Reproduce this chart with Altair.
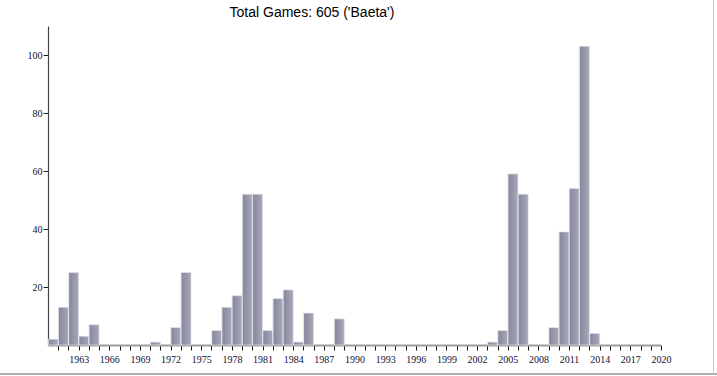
import altair as alt
import pandas as pd

years = list(range(1960, 2020))
games = [
    2, 13, 25, 3, 7, 0, 0, 0, 0, 0,          # 1960-1969
    1, 0, 6, 25, 0, 0, 5, 13, 17, 52,        # 1970-1979
    52, 5, 16, 19, 1, 11, 0, 0, 9, 0,        # 1980-1989
    0, 0, 0, 0, 0, 0, 0, 0, 0, 0,            # 1990-1999
    0, 0, 0, 1, 5, 59, 52, 0, 0, 6,          # 2000-2009
    39, 54, 103, 4, 0, 0, 0, 0, 0, 0,        # 2010-2019
]
x_label_years = list(range(1963, 2021, 3))
y_ticks = [20, 40, 60, 80, 100]
title_text = "Total Games: 605 ('Baeta')"

df = pd.DataFrame({"year": years, "games": games})
df["year_end"] = df["year"] + 1
df = df[df["games"] > 0]

grad = alt.LinearGradient(
    gradient="linear",
    stops=[
        alt.GradientStop(color="#dcdce6", offset=0),
        alt.GradientStop(color="#8a8a9e", offset=0.12),
        alt.GradientStop(color="#9898ac", offset=0.55),
        alt.GradientStop(color="#a9a9bc", offset=1),
    ],
    x1=0, x2=1, y1=0, y2=0,
)

label_expr = "((datum.value - 1963) % 3 == 0 && datum.value >= 1963) ? format(datum.value, 'd') : ''"

bars = alt.Chart(df).mark_bar(color=grad, stroke="#e4e4ec", strokeWidth=0.6).encode(
    x=alt.X("year:Q", scale=alt.Scale(domain=[1960, 2020], nice=False, zero=False),
            axis=alt.Axis(values=list(range(1961, 2021)), labelExpr=label_expr, title=None,
                          grid=False, domainColor="#9a9a9a", domainWidth=2, tickColor="#111",
                          tickSize=5, labelFont="Liberation Serif", labelFontSize=10,
                          labelColor="#111133", labelPadding=4, labelFlush=False,
                          labelOverlap=False)),
    x2="year_end:Q",
    y=alt.Y("games:Q", scale=alt.Scale(domain=[0, 110], nice=False),
            axis=alt.Axis(values=y_ticks, title=None, grid=False, domainColor="#444",
                          domainWidth=1.2, tickColor="#222", tickSize=5,
                          labelFont="Liberation Serif", labelFontSize=10,
                          labelColor="#111133", labelPadding=1)),
    y2=alt.datum(0),
)

one = pd.DataFrame({"k": [0]})
border_bottom = alt.Chart(one).mark_rule(color="#b0b0b0", strokeWidth=2).encode(
    x=alt.value(-48), x2=alt.value(669), y=alt.value(348))
border_right = alt.Chart(one).mark_rule(color="#c8c8c8", strokeWidth=1).encode(
    x=alt.value(665.5), y=alt.value(-26), y2=alt.value(348))

title = alt.Chart(pd.DataFrame({"t": [title_text]})).mark_text(
    font="Liberation Sans", fontSize=14, color="#000", align="center", baseline="alphabetic"
).encode(text="t:N", x=alt.value(264), y=alt.value(-9))

chart = alt.layer(bars, border_bottom, border_right, title).properties(
    width=613, height=319,
    autosize=alt.AutoSizeParams(type="none"),
    padding={"left": 48, "top": 26, "right": 56, "bottom": 31},
).configure_view(stroke=None)

chart.save("out.html", embed_options={"renderer": "svg", "actions": False})
